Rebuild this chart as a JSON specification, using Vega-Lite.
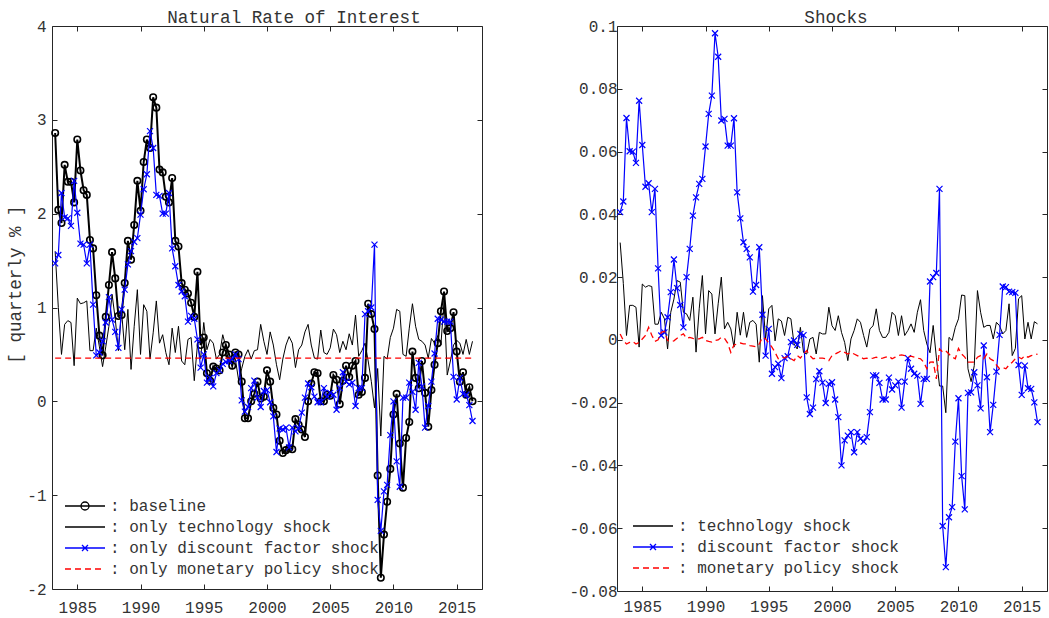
{
  "$schema": "https://vega.github.io/schema/vega-lite/v6.json",
  "padding": {"left": 6, "top": 8, "right": 0, "bottom": 0},
  "background": "white",
  "spacing": 85,
  "config": {
    "view": {"stroke": "#262626", "strokeWidth": 1},
    "font": "Nimbus Mono PS, Courier, FreeMono, Liberation Mono",
    "axis": {"grid": false, "domain": false, "tickColor": "#262626", "tickSize": -5, "tickWidth": 1, "labelFont": "Nimbus Mono PS, Courier, FreeMono, Liberation Mono", "labelFontSize": 16, "labelColor": "#333333", "labelFlush": false, "labelOverlap": false, "titleFont": "Nimbus Mono PS, Courier, FreeMono, Liberation Mono", "titleFontSize": 17.6, "titleFontWeight": "normal", "titleColor": "#333333"},
    "title": {"font": "Nimbus Mono PS, Courier, FreeMono, Liberation Mono", "fontSize": 17.6, "fontWeight": "normal", "color": "#333333", "offset": -9},
    "legend": {"labelFont": "Nimbus Mono PS, Courier, FreeMono, Liberation Mono", "labelFontSize": 16, "labelColor": "#333333", "labelLimit": 0, "symbolSize": 256, "symbolStrokeWidth": 1.3, "labelOffset": 28, "rowPadding": 4, "padding": 0}
  },
  "datasets": {
    "left": [
      {"t":1983.25,"b":2.86,"te":1.60,"di":1.47,"mo":0.46},
      {"t":1983.5,"b":2.04,"te":1.00,"di":1.56,"mo":0.46},
      {"t":1983.75,"b":1.90,"te":0.50,"di":2.22,"mo":0.46},
      {"t":1984,"b":2.52,"te":0.82,"di":1.96,"mo":0.46},
      {"t":1984.25,"b":2.34,"te":0.86,"di":1.95,"mo":0.46},
      {"t":1984.5,"b":2.34,"te":0.84,"di":1.87,"mo":0.46},
      {"t":1984.75,"b":2.12,"te":0.38,"di":2.35,"mo":0.46},
      {"t":1985,"b":2.79,"te":1.10,"di":2.01,"mo":0.46},
      {"t":1985.25,"b":2.46,"te":1.04,"di":1.68,"mo":0.46},
      {"t":1985.5,"b":2.25,"te":1.05,"di":1.67,"mo":0.46},
      {"t":1985.75,"b":2.20,"te":1.07,"di":1.47,"mo":0.46},
      {"t":1986,"b":1.72,"te":0.54,"di":1.67,"mo":0.46},
      {"t":1986.25,"b":1.63,"te":0.54,"di":1.03,"mo":0.46},
      {"t":1986.5,"b":1.13,"te":0.78,"di":0.49,"mo":0.46},
      {"t":1986.75,"b":0.70,"te":0.58,"di":0.52,"mo":0.46},
      {"t":1987,"b":0.49,"te":0.37,"di":0.64,"mo":0.46},
      {"t":1987.25,"b":0.90,"te":0.58,"di":0.84,"mo":0.46},
      {"t":1987.5,"b":1.24,"te":0.80,"di":1.11,"mo":0.46},
      {"t":1987.75,"b":1.59,"te":1.14,"di":0.87,"mo":0.46},
      {"t":1988,"b":1.31,"te":0.88,"di":0.74,"mo":0.46},
      {"t":1988.25,"b":0.91,"te":0.54,"di":0.57,"mo":0.46},
      {"t":1988.5,"b":0.92,"te":0.96,"di":0.98,"mo":0.46},
      {"t":1988.75,"b":1.26,"te":0.55,"di":1.19,"mo":0.46},
      {"t":1989,"b":1.71,"te":0.98,"di":1.46,"mo":0.46},
      {"t":1989.25,"b":1.51,"te":0.34,"di":1.60,"mo":0.46},
      {"t":1989.5,"b":1.88,"te":0.80,"di":1.70,"mo":0.46},
      {"t":1989.75,"b":2.35,"te":1.19,"di":1.74,"mo":0.46},
      {"t":1990,"b":2.03,"te":0.50,"di":1.99,"mo":0.46},
      {"t":1990.25,"b":2.55,"te":1.03,"di":2.26,"mo":0.46},
      {"t":1990.5,"b":2.79,"te":0.96,"di":2.42,"mo":0.46},
      {"t":1990.75,"b":2.70,"te":0.45,"di":2.88,"mo":0.46},
      {"t":1991,"b":3.24,"te":0.73,"di":2.70,"mo":0.46},
      {"t":1991.25,"b":3.13,"te":1.07,"di":2.20,"mo":0.46},
      {"t":1991.5,"b":2.47,"te":0.62,"di":2.19,"mo":0.46},
      {"t":1991.75,"b":2.44,"te":0.71,"di":2.00,"mo":0.46},
      {"t":1992,"b":2.18,"te":0.52,"di":2.00,"mo":0.46},
      {"t":1992.25,"b":2.12,"te":0.39,"di":2.22,"mo":0.46},
      {"t":1992.5,"b":2.38,"te":0.78,"di":1.63,"mo":0.46},
      {"t":1992.75,"b":1.71,"te":0.52,"di":1.44,"mo":0.46},
      {"t":1993,"b":1.65,"te":0.80,"di":1.24,"mo":0.46},
      {"t":1993.25,"b":1.26,"te":0.43,"di":1.17,"mo":0.46},
      {"t":1993.5,"b":1.19,"te":0.39,"di":1.12,"mo":0.46},
      {"t":1993.75,"b":1.15,"te":0.66,"di":0.85,"mo":0.46},
      {"t":1994,"b":1.05,"te":0.68,"di":0.91,"mo":0.46},
      {"t":1994.25,"b":0.90,"te":0.22,"di":0.88,"mo":0.46},
      {"t":1994.5,"b":1.38,"te":0.60,"di":0.66,"mo":0.46},
      {"t":1994.75,"b":0.60,"te":0.45,"di":0.36,"mo":0.46},
      {"t":1995,"b":0.68,"te":0.84,"di":0.50,"mo":0.46},
      {"t":1995.25,"b":0.30,"te":0.55,"di":0.20,"mo":0.46},
      {"t":1995.5,"b":0.22,"te":0.66,"di":0.25,"mo":0.46},
      {"t":1995.75,"b":0.37,"te":0.62,"di":0.16,"mo":0.46},
      {"t":1996,"b":0.35,"te":0.45,"di":0.30,"mo":0.46},
      {"t":1996.25,"b":0.33,"te":0.50,"di":0.33,"mo":0.46},
      {"t":1996.5,"b":0.52,"te":0.71,"di":0.40,"mo":0.46},
      {"t":1996.75,"b":0.60,"te":0.58,"di":0.42,"mo":0.46},
      {"t":1997,"b":0.50,"te":0.40,"di":0.43,"mo":0.46},
      {"t":1997.25,"b":0.38,"te":0.50,"di":0.45,"mo":0.46},
      {"t":1997.5,"b":0.52,"te":0.45,"di":0.50,"mo":0.46},
      {"t":1997.75,"b":0.50,"te":0.23,"di":0.45,"mo":0.46},
      {"t":1998,"b":0.21,"te":0.35,"di":0.01,"mo":0.46},
      {"t":1998.25,"b":-0.18,"te":0.48,"di":-0.11,"mo":0.46},
      {"t":1998.5,"b":-0.18,"te":0.55,"di":-0.06,"mo":0.46},
      {"t":1998.75,"b":0.00,"te":0.45,"di":0.14,"mo":0.46},
      {"t":1999,"b":0.08,"te":0.54,"di":0.22,"mo":0.46},
      {"t":1999.25,"b":0.21,"te":0.55,"di":0.04,"mo":0.46},
      {"t":1999.5,"b":0.03,"te":0.82,"di":-0.06,"mo":0.46},
      {"t":1999.75,"b":0.05,"te":0.64,"di":0.11,"mo":0.46},
      {"t":2000,"b":0.33,"te":0.50,"di":0.12,"mo":0.46},
      {"t":2000.25,"b":0.21,"te":0.74,"di":-0.01,"mo":0.46},
      {"t":2000.5,"b":-0.07,"te":0.60,"di":-0.16,"mo":0.46},
      {"t":2000.75,"b":-0.14,"te":0.39,"di":-0.54,"mo":0.46},
      {"t":2001,"b":-0.42,"te":0.23,"di":-0.29,"mo":0.46},
      {"t":2001.25,"b":-0.55,"te":0.45,"di":-0.30,"mo":0.46},
      {"t":2001.5,"b":-0.52,"te":0.60,"di":-0.28,"mo":0.46},
      {"t":2001.75,"b":-0.50,"te":0.69,"di":-0.49,"mo":0.46},
      {"t":2002,"b":-0.51,"te":0.62,"di":-0.28,"mo":0.46},
      {"t":2002.25,"b":-0.19,"te":0.36,"di":-0.32,"mo":0.46},
      {"t":2002.5,"b":-0.25,"te":0.55,"di":-0.29,"mo":0.46},
      {"t":2002.75,"b":-0.30,"te":0.60,"di":-0.12,"mo":0.46},
      {"t":2003,"b":-0.38,"te":0.74,"di":0.04,"mo":0.46},
      {"t":2003.25,"b":0.00,"te":0.82,"di":0.19,"mo":0.46},
      {"t":2003.5,"b":0.19,"te":0.60,"di":0.15,"mo":0.46},
      {"t":2003.75,"b":0.31,"te":0.46,"di":0.05,"mo":0.46},
      {"t":2004,"b":0.30,"te":0.45,"di":-0.01,"mo":0.46},
      {"t":2004.25,"b":0.00,"te":0.76,"di":-0.01,"mo":0.46},
      {"t":2004.5,"b":0.00,"te":0.52,"di":0.14,"mo":0.46},
      {"t":2004.75,"b":0.07,"te":0.50,"di":0.05,"mo":0.46},
      {"t":2005,"b":0.06,"te":0.57,"di":0.09,"mo":0.46},
      {"t":2005.25,"b":0.28,"te":0.77,"di":0.07,"mo":0.46},
      {"t":2005.5,"b":0.23,"te":0.71,"di":-0.09,"mo":0.46},
      {"t":2005.75,"b":-0.03,"te":0.52,"di":0.14,"mo":0.46},
      {"t":2006,"b":0.22,"te":0.64,"di":0.31,"mo":0.46},
      {"t":2006.25,"b":0.38,"te":0.55,"di":0.21,"mo":0.46},
      {"t":2006.5,"b":0.26,"te":0.72,"di":0.18,"mo":0.46},
      {"t":2006.75,"b":0.38,"te":0.60,"di":0.20,"mo":0.46},
      {"t":2007,"b":0.43,"te":0.92,"di":-0.05,"mo":0.46},
      {"t":2007.25,"b":0.07,"te":0.48,"di":0.14,"mo":0.46},
      {"t":2007.5,"b":0.10,"te":0.54,"di":0.14,"mo":0.46},
      {"t":2007.75,"b":0.25,"te":0.62,"di":0.93,"mo":0.46},
      {"t":2008,"b":1.04,"te":0.43,"di":0.96,"mo":0.46},
      {"t":2008.25,"b":0.93,"te":0.21,"di":1.00,"mo":0.46},
      {"t":2008.5,"b":0.77,"te":-0.07,"di":1.67,"mo":0.46},
      {"t":2008.75,"b":-0.79,"te":0.35,"di":-1.05,"mo":0.46},
      {"t":2009,"b":-1.88,"te":-0.37,"di":-1.38,"mo":0.46},
      {"t":2009.25,"b":-1.42,"te":0.48,"di":-0.96,"mo":0.46},
      {"t":2009.5,"b":-1.07,"te":0.45,"di":-0.89,"mo":0.46},
      {"t":2009.75,"b":-0.72,"te":0.68,"di":-0.36,"mo":0.46},
      {"t":2010,"b":-0.14,"te":0.78,"di":0.00,"mo":0.46},
      {"t":2010.25,"b":0.08,"te":0.98,"di":-0.64,"mo":0.46},
      {"t":2010.5,"b":-0.45,"te":0.96,"di":-0.91,"mo":0.46},
      {"t":2010.75,"b":-0.92,"te":0.50,"di":0.04,"mo":0.46},
      {"t":2011,"b":-0.39,"te":0.48,"di":0.04,"mo":0.46},
      {"t":2011.25,"b":-0.22,"te":0.78,"di":0.20,"mo":0.46},
      {"t":2011.5,"b":0.53,"te":1.04,"di":0.10,"mo":0.46},
      {"t":2011.75,"b":0.25,"te":0.80,"di":-0.09,"mo":0.46},
      {"t":2012,"b":0.14,"te":0.66,"di":0.41,"mo":0.46},
      {"t":2012.25,"b":0.43,"te":0.64,"di":0.16,"mo":0.46},
      {"t":2012.5,"b":0.09,"te":0.60,"di":-0.28,"mo":0.46},
      {"t":2012.75,"b":-0.27,"te":0.46,"di":-0.05,"mo":0.46},
      {"t":2013,"b":0.12,"te":0.67,"di":0.21,"mo":0.46},
      {"t":2013.25,"b":0.39,"te":0.62,"di":0.51,"mo":0.46},
      {"t":2013.5,"b":0.62,"te":0.70,"di":0.88,"mo":0.46},
      {"t":2013.75,"b":0.96,"te":0.60,"di":0.87,"mo":0.46},
      {"t":2014,"b":1.17,"te":1.07,"di":0.85,"mo":0.46},
      {"t":2014.25,"b":0.75,"te":0.28,"di":0.85,"mo":0.46},
      {"t":2014.5,"b":0.78,"te":0.43,"di":0.85,"mo":0.46},
      {"t":2014.75,"b":0.95,"te":0.60,"di":0.26,"mo":0.46},
      {"t":2015,"b":0.53,"te":0.65,"di":0.02,"mo":0.46},
      {"t":2015.25,"b":0.21,"te":0.62,"di":0.25,"mo":0.46},
      {"t":2015.5,"b":0.31,"te":0.50,"di":0.08,"mo":0.46},
      {"t":2015.75,"b":0.07,"te":0.66,"di":0.07,"mo":0.46},
      {"t":2016,"b":0.15,"te":0.50,"di":-0.04,"mo":0.46},
      {"t":2016.25,"b":0.00,"te":0.64,"di":-0.21,"mo":0.46}
    ],
    "right": [
      {"t":1983.25,"te":0.031,"di":0.0407,"mo":0.0019},
      {"t":1983.5,"te":0.018,"di":0.0441,"mo":-0.0002},
      {"t":1983.75,"te":0.0014,"di":0.0707,"mo":-0.0013},
      {"t":1984,"te":0.011,"di":0.0601,"mo":-0.0008},
      {"t":1984.25,"te":0.011,"di":0.060,"mo":-0.0005},
      {"t":1984.5,"te":0.0104,"di":0.0564,"mo":-0.0013},
      {"t":1984.75,"te":-0.0023,"di":0.0762,"mo":-0.0008},
      {"t":1985,"te":0.0178,"di":0.0621,"mo":0.0003},
      {"t":1985.25,"te":0.0168,"di":0.0488,"mo":0.0014},
      {"t":1985.5,"te":0.0173,"di":0.0499,"mo":0.0040},
      {"t":1985.75,"te":0.017,"di":0.0407,"mo":0.0015},
      {"t":1986,"te":0.005,"di":0.0481,"mo":-0.0005},
      {"t":1986.25,"te":0.005,"di":0.0228,"mo":0.0000},
      {"t":1986.5,"te":0.0088,"di":0.0014,"mo":0.0024},
      {"t":1986.75,"te":0.0067,"di":0.0024,"mo":0.0027},
      {"t":1987,"te":-0.0029,"di":0.0072,"mo":-0.0002},
      {"t":1987.25,"te":0.0088,"di":0.0152,"mo":-0.0005},
      {"t":1987.5,"te":0.013,"di":0.0256,"mo":-0.0003},
      {"t":1987.75,"te":0.0189,"di":0.0165,"mo":0.0005},
      {"t":1988,"te":0.0184,"di":0.0111,"mo":0.0014},
      {"t":1988.25,"te":0.0088,"di":0.004,"mo":0.0019},
      {"t":1988.5,"te":0.0083,"di":0.020,"mo":0.0005},
      {"t":1988.75,"te":0.0062,"di":0.029,"mo":0.0008},
      {"t":1989,"te":0.0136,"di":0.0396,"mo":0.0005},
      {"t":1989.25,"te":-0.0039,"di":0.0454,"mo":0.0003},
      {"t":1989.5,"te":0.0099,"di":0.0497,"mo":0.0003},
      {"t":1989.75,"te":0.0205,"di":0.0513,"mo":0.0008},
      {"t":1990,"te":0.0019,"di":0.0616,"mo":-0.0002},
      {"t":1990.25,"te":0.0157,"di":0.072,"mo":-0.0005},
      {"t":1990.5,"te":0.0146,"di":0.0778,"mo":-0.0007},
      {"t":1990.75,"te":0.0019,"di":0.0977,"mo":-0.0002},
      {"t":1991,"te":0.0115,"di":0.0902,"mo":0.0000},
      {"t":1991.25,"te":0.020,"di":0.0699,"mo":0.0008},
      {"t":1991.5,"te":0.0035,"di":0.0704,"mo":0.0005},
      {"t":1991.75,"te":0.0056,"di":0.0619,"mo":-0.0010},
      {"t":1992,"te":0.0035,"di":0.0619,"mo":-0.0040},
      {"t":1992.25,"te":-0.0023,"di":0.0706,"mo":-0.0016},
      {"t":1992.5,"te":0.0088,"di":0.047,"mo":-0.0013},
      {"t":1992.75,"te":0.0015,"di":0.0387,"mo":-0.0010},
      {"t":1993,"te":0.0088,"di":0.0311,"mo":-0.0013},
      {"t":1993.25,"te":0.0008,"di":0.029,"mo":-0.0013},
      {"t":1993.5,"te":0.0056,"di":0.0263,"mo":-0.0018},
      {"t":1993.75,"te":0.0062,"di":0.0154,"mo":-0.0020},
      {"t":1994,"te":0.0050,"di":0.0175,"mo":-0.0022},
      {"t":1994.25,"te":-0.0071,"di":0.0295,"mo":-0.0013},
      {"t":1994.5,"te":0.0141,"di":0.008,"mo":0.0008},
      {"t":1994.75,"te":0.0003,"di":-0.005,"mo":0.0003},
      {"t":1995,"te":0.0099,"di":0.0035,"mo":-0.0010},
      {"t":1995.25,"te":0.011,"di":-0.0108,"mo":-0.0023},
      {"t":1995.5,"te":-0.0003,"di":-0.0087,"mo":-0.0040},
      {"t":1995.75,"te":0.0067,"di":-0.0076,"mo":-0.0060},
      {"t":1996,"te":0.006,"di":-0.0122,"mo":-0.0055},
      {"t":1996.25,"te":0.0014,"di":-0.0058,"mo":-0.0058},
      {"t":1996.5,"te":0.0072,"di":-0.0052,"mo":-0.0052},
      {"t":1996.75,"te":0.0067,"di":-0.0007,"mo":-0.0060},
      {"t":1997,"te":-0.0013,"di":-0.0002,"mo":-0.0066},
      {"t":1997.25,"te":-0.0029,"di":-0.0016,"mo":-0.0050},
      {"t":1997.5,"te":0.004,"di":0.0019,"mo":-0.0058},
      {"t":1997.75,"te":-0.004,"di":0.0015,"mo":-0.0045},
      {"t":1998,"te":-0.0045,"di":-0.0183,"mo":-0.0034},
      {"t":1998.25,"te":0.0003,"di":-0.0236,"mo":-0.0050},
      {"t":1998.5,"te":0.0008,"di":-0.0216,"mo":-0.0060},
      {"t":1998.75,"te":-0.0045,"di":-0.0125,"mo":-0.0058},
      {"t":1999,"te":0.0024,"di":-0.0100,"mo":-0.0058},
      {"t":1999.25,"te":0.0019,"di":-0.0136,"mo":-0.0058},
      {"t":1999.5,"te":0.0019,"di":-0.0201,"mo":-0.0060},
      {"t":1999.75,"te":0.0104,"di":-0.0140,"mo":-0.0066},
      {"t":2000,"te":0.0045,"di":-0.0135,"mo":-0.0050},
      {"t":2000.25,"te":0.003,"di":-0.0190,"mo":-0.0045},
      {"t":2000.5,"te":0.0077,"di":-0.0246,"mo":-0.0040},
      {"t":2000.75,"te":0.0024,"di":-0.0400,"mo":-0.0034},
      {"t":2001,"te":-0.0008,"di":-0.0320,"mo":-0.0040},
      {"t":2001.25,"te":-0.0066,"di":-0.0305,"mo":-0.0045},
      {"t":2001.5,"te":0.0003,"di":-0.0294,"mo":-0.0040},
      {"t":2001.75,"te":0.003,"di":-0.0358,"mo":-0.0045},
      {"t":2002,"te":0.0067,"di":-0.0294,"mo":-0.0050},
      {"t":2002.25,"te":0.0056,"di":-0.0315,"mo":-0.0055},
      {"t":2002.5,"te":0.0014,"di":-0.0324,"mo":-0.0060},
      {"t":2002.75,"te":-0.0023,"di":-0.0310,"mo":-0.0058},
      {"t":2003,"te":0.0035,"di":-0.0230,"mo":-0.0060},
      {"t":2003.25,"te":0.0045,"di":-0.0113,"mo":-0.0058},
      {"t":2003.5,"te":0.0099,"di":-0.0113,"mo":-0.0055},
      {"t":2003.75,"te":0.0030,"di":-0.0137,"mo":-0.0060},
      {"t":2004,"te":0.0008,"di":-0.0190,"mo":-0.0058},
      {"t":2004.25,"te":0.0008,"di":-0.0190,"mo":-0.0055},
      {"t":2004.5,"te":0.0024,"di":-0.0120,"mo":-0.0052},
      {"t":2004.75,"te":0.0088,"di":-0.0158,"mo":-0.0060},
      {"t":2005,"te":0.0077,"di":-0.0145,"mo":-0.0055},
      {"t":2005.25,"te":0.0014,"di":-0.0133,"mo":-0.0050},
      {"t":2005.5,"te":0.0077,"di":-0.0216,"mo":-0.0048},
      {"t":2005.75,"te":0.0014,"di":-0.0133,"mo":-0.0050},
      {"t":2006,"te":0.003,"di":-0.0058,"mo":-0.0055},
      {"t":2006.25,"te":0.0051,"di":-0.0092,"mo":-0.0052},
      {"t":2006.5,"te":0.0024,"di":-0.0108,"mo":-0.0055},
      {"t":2006.75,"te":0.0088,"di":-0.0114,"mo":-0.0058},
      {"t":2007,"te":0.0128,"di":-0.0204,"mo":-0.0060},
      {"t":2007.25,"te":0.003,"di":-0.0124,"mo":-0.0071},
      {"t":2007.5,"te":-0.0013,"di":-0.0124,"mo":-0.0092},
      {"t":2007.75,"te":-0.0041,"di":0.0186,"mo":-0.0071},
      {"t":2008,"te":0.0046,"di":0.0200,"mo":-0.0070},
      {"t":2008.25,"te":-0.0055,"di":0.0213,"mo":-0.0124},
      {"t":2008.5,"te":-0.0147,"di":0.0481,"mo":-0.0029},
      {"t":2008.75,"te":-0.0147,"di":-0.0593,"mo":-0.0039},
      {"t":2009,"te":-0.0232,"di":-0.0724,"mo":-0.0035},
      {"t":2009.25,"te":0.0008,"di":-0.0565,"mo":-0.0045},
      {"t":2009.5,"te":-0.0002,"di":-0.0533,"mo":-0.0055},
      {"t":2009.75,"te":0.004,"di":-0.0324,"mo":-0.0060},
      {"t":2010,"te":0.0067,"di":-0.0186,"mo":-0.0027},
      {"t":2010.25,"te":0.0143,"di":-0.0434,"mo":-0.0045},
      {"t":2010.5,"te":0.0141,"di":-0.0540,"mo":-0.0055},
      {"t":2010.75,"te":-0.0092,"di":-0.0169,"mo":-0.0071},
      {"t":2011,"te":-0.0133,"di":-0.0167,"mo":-0.0071},
      {"t":2011.25,"te":-0.0082,"di":-0.0103,"mo":-0.0071},
      {"t":2011.5,"te":0.0157,"di":-0.0145,"mo":-0.0055},
      {"t":2011.75,"te":0.0088,"di":-0.0218,"mo":-0.0050},
      {"t":2012,"te":0.004,"di":-0.0018,"mo":-0.0060},
      {"t":2012.25,"te":0.0046,"di":-0.0119,"mo":-0.0045},
      {"t":2012.5,"te":0.0046,"di":-0.0294,"mo":-0.0060},
      {"t":2012.75,"te":0.0003,"di":-0.0207,"mo":-0.0066},
      {"t":2013,"te":0.0056,"di":-0.0101,"mo":-0.0080},
      {"t":2013.25,"te":0.0045,"di":0.0016,"mo":-0.0092},
      {"t":2013.5,"te":0.0019,"di":0.0170,"mo":-0.0088},
      {"t":2013.75,"te":0.003,"di":0.0168,"mo":-0.0092},
      {"t":2014,"te":0.0115,"di":0.0154,"mo":-0.0080},
      {"t":2014.25,"te":-0.005,"di":0.0152,"mo":-0.0071},
      {"t":2014.5,"te":-0.0027,"di":0.0150,"mo":-0.0060},
      {"t":2014.75,"te":0.0131,"di":-0.0080,"mo":-0.0055},
      {"t":2015,"te":0.0141,"di":-0.0175,"mo":-0.0060},
      {"t":2015.25,"te":0.0003,"di":-0.0082,"mo":-0.0050},
      {"t":2015.5,"te":0.0056,"di":-0.0154,"mo":-0.0055},
      {"t":2015.75,"te":0.0003,"di":-0.0156,"mo":-0.0050},
      {"t":2016,"te":0.0058,"di":-0.0199,"mo":-0.0048},
      {"t":2016.25,"te":0.0051,"di":-0.0262,"mo":-0.0045}
    ]
  },
  "resolve": {"scale": {"color": "independent", "shape": "independent"}},
  "hconcat": [
    {
      "width": 430,
      "height": 563,
      "title": {"text": "Natural Rate of Interest", "dx": 27},
      "data": {"name": "left"},
      "layer": [
        {"mark": {"type": "line", "color": "#000000", "strokeWidth": 2},
         "encoding": {
           "x": {"field": "t", "type": "quantitative", "scale": {"domain": [1983, 2017]}, "axis": {"orient": "bottom", "values": [1985, 1990, 1995, 2000, 2005, 2010, 2015], "format": "d", "title": null, "labelPadding": 15}},
           "y": {"field": "b", "type": "quantitative", "scale": {"domain": [-2, 4]}, "axis": {"orient": "left", "values": [-2, -1, 0, 1, 2, 3, 4], "labelExpr": "'' + datum.value", "title": "[ quarterly % ]", "labelPadding": 11, "titlePadding": 2, "titleY": 258}}}},
        {"mark": {"type": "point", "shape": "circle", "filled": false, "color": "#000000", "size": 42, "strokeWidth": 1.6, "opacity": 1},
         "encoding": {
           "x": {"field": "t", "type": "quantitative", "scale": {"domain": [1983, 2017]}, "axis": null},
           "y": {"field": "b", "type": "quantitative", "scale": {"domain": [-2, 4]}, "axis": null}}},
        {"mark": {"type": "line", "color": "#000000", "strokeWidth": 1},
         "encoding": {
           "x": {"field": "t", "type": "quantitative", "scale": {"domain": [1983, 2017]}, "axis": null},
           "y": {"field": "te", "type": "quantitative", "scale": {"domain": [-2, 4]}, "axis": null}}},
        {"mark": {"type": "line", "color": "#0000ff", "strokeWidth": 1.2},
         "encoding": {
           "x": {"field": "t", "type": "quantitative", "scale": {"domain": [1983, 2017]}, "axis": null},
           "y": {"field": "di", "type": "quantitative", "scale": {"domain": [-2, 4]}, "axis": null}}},
        {"mark": {"type": "point", "shape": "M-1,-1L1,1M-1,1L1,-1", "filled": false, "color": "#0000ff", "size": 36, "strokeWidth": 1.2, "opacity": 1},
         "encoding": {
           "x": {"field": "t", "type": "quantitative", "scale": {"domain": [1983, 2017]}, "axis": null},
           "y": {"field": "di", "type": "quantitative", "scale": {"domain": [-2, 4]}, "axis": null}}},
        {"mark": {"type": "line", "color": "#ff0000", "strokeWidth": 1.3, "strokeDash": [6, 4]},
         "encoding": {
           "x": {"field": "t", "type": "quantitative", "scale": {"domain": [1983, 2017]}, "axis": {"orient": "top", "values": [1985, 1990, 1995, 2000, 2005, 2010, 2015], "labels": false, "title": null, "minExtent": 0, "maxExtent": 0}},
           "y": {"field": "mo", "type": "quantitative", "scale": {"domain": [-2, 4]}, "axis": {"orient": "right", "values": [-2, -1, 0, 1, 2, 3, 4], "labels": false, "title": null, "minExtent": 0, "maxExtent": 0}}}},
        {"transform": [{"filter": "false"}],
         "mark": {"type": "point", "filled": false, "size": 256, "strokeWidth": 1.3, "opacity": 1},
         "encoding": {
           "color": {"field": "s", "type": "nominal",
             "scale": {"domain": [": baseline", ": only technology shock", ": only discount factor shock", ": only monetary policy shock"], "range": ["#000000", "#000000", "#0000ff", "#ff0000"]},
             "legend": {"orient": "bottom-left", "offset": 12, "title": null}},
           "shape": {"field": "s", "type": "nominal",
             "scale": {"domain": [": baseline", ": only technology shock", ": only discount factor shock", ": only monetary policy shock"], "range": ["M-1,0L4,0M1,0A0.5,0.5 0 1,0 2,0A0.5,0.5 0 1,0 1,0", "M-1,0L4,0", "M-1,0L4,0M1.125,-0.375L1.875,0.375M1.125,0.375L1.875,-0.375", "M-1,0L-0.25,0M0.25,0L1,0M1.5,0L2.25,0M2.75,0L3.5,0"]},
             "legend": {"orient": "bottom-left", "offset": 12, "title": null}}}}
      ],
      "resolve": {"axis": {"x": "independent", "y": "independent"}}
    },
    {
      "width": 430,
      "height": 565,
      "title": {"text": "Shocks", "dx": 4},
      "data": {"name": "right"},
      "layer": [
        {"mark": {"type": "line", "color": "#000000", "strokeWidth": 1},
         "encoding": {
           "x": {"field": "t", "type": "quantitative", "scale": {"domain": [1983, 2017]}, "axis": {"orient": "bottom", "values": [1985, 1990, 1995, 2000, 2005, 2010, 2015], "format": "d", "title": null, "labelPadding": 12}},
           "y": {"field": "te", "type": "quantitative", "scale": {"domain": [-0.08, 0.1]}, "axis": {"orient": "left", "values": [-0.08, -0.06, -0.04, -0.02, 0, 0.02, 0.04, 0.06, 0.08, 0.1], "labelExpr": "'' + datum.value", "title": null, "labelPadding": 5}}}},
        {"mark": {"type": "line", "color": "#0000ff", "strokeWidth": 1.2},
         "encoding": {
           "x": {"field": "t", "type": "quantitative", "scale": {"domain": [1983, 2017]}, "axis": null},
           "y": {"field": "di", "type": "quantitative", "scale": {"domain": [-0.08, 0.1]}, "axis": null}}},
        {"mark": {"type": "point", "shape": "M-1,-1L1,1M-1,1L1,-1", "filled": false, "color": "#0000ff", "size": 36, "strokeWidth": 1.2, "opacity": 1},
         "encoding": {
           "x": {"field": "t", "type": "quantitative", "scale": {"domain": [1983, 2017]}, "axis": null},
           "y": {"field": "di", "type": "quantitative", "scale": {"domain": [-0.08, 0.1]}, "axis": null}}},
        {"mark": {"type": "line", "color": "#ff0000", "strokeWidth": 1.3, "strokeDash": [6, 4]},
         "encoding": {
           "x": {"field": "t", "type": "quantitative", "scale": {"domain": [1983, 2017]}, "axis": {"orient": "top", "values": [1985, 1990, 1995, 2000, 2005, 2010, 2015], "labels": false, "title": null, "minExtent": 0, "maxExtent": 0}},
           "y": {"field": "mo", "type": "quantitative", "scale": {"domain": [-0.08, 0.1]}, "axis": {"orient": "right", "values": [-0.08, -0.06, -0.04, -0.02, 0, 0.02, 0.04, 0.06, 0.08, 0.1], "labels": false, "title": null, "minExtent": 0, "maxExtent": 0}}}},
        {"transform": [{"filter": "false"}],
         "mark": {"type": "point", "filled": false, "size": 256, "strokeWidth": 1.3, "opacity": 1},
         "encoding": {
           "color": {"field": "s", "type": "nominal",
             "scale": {"domain": [": technology shock", ": discount factor shock", ": monetary policy shock"], "range": ["#000000", "#0000ff", "#ff0000"]},
             "legend": {"orient": "bottom-left", "offset": 15, "title": null}},
           "shape": {"field": "s", "type": "nominal",
             "scale": {"domain": [": technology shock", ": discount factor shock", ": monetary policy shock"], "range": ["M-1,0L4,0", "M-1,0L4,0M1.125,-0.375L1.875,0.375M1.125,0.375L1.875,-0.375", "M-1,0L-0.25,0M0.25,0L1,0M1.5,0L2.25,0M2.75,0L3.5,0"]},
             "legend": {"orient": "bottom-left", "offset": 15, "title": null}}}}
      ],
      "resolve": {"axis": {"x": "independent", "y": "independent"}}
    }
  ]
}
